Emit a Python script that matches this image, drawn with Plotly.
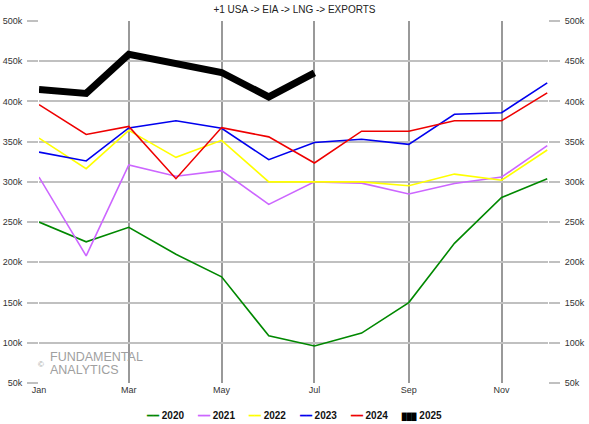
import plotly.graph_objects as go

# ---------------------------------------------------------
# DATOS
# ---------------------------------------------------------
meses = ["2025-01-01", "2025-02-01", "2025-03-01", "2025-04-01", "2025-05-01", "2025-06-01",
         "2025-07-01", "2025-08-01", "2025-09-01", "2025-10-01", "2025-11-01", "2025-12-01"]

y2020 = [250, 225.5, 243.6, 210, 182, 108.6, 96, 112, 150, 223.6, 280.6, 304]
y2021 = [306, 208, 321, 307, 314, 272, 300, 298.5, 285, 298, 306, 345]
y2022 = [354.5, 316.4, 364, 330.5, 351.7, 300, 300, 300, 295.2, 309.7, 302, 339.6]
y2023 = [337, 326, 367, 376, 366.6, 327.6, 349, 353, 346.7, 384, 386, 423]
y2024 = [396, 359, 369, 304, 367.5, 356, 323.5, 363, 363, 376, 376, 410.6]
y2025 = [415, 410, 458.5, 447, 436, 405.6, 435.5]

series = [
    ("2020", y2020, "#008800", 1.6),
    ("2021", y2021, "#cc66ff", 1.6),
    ("2022", y2022, "#ffff00", 1.6),
    ("2023", y2023, "#0000ee", 1.6),
    ("2024", y2024, "#ee0000", 1.6),
    ("2025", y2025, "#000000", 7),
]

fig = go.Figure()

for nombre, vals, color, ancho in series:
    fig.add_trace(go.Scatter(
        x=meses[:len(vals)],
        y=[v * 1000 for v in vals],
        mode="lines",
        name=nombre,
        line=dict(color=color, width=ancho),
        showlegend=False,
    ))

# traza invisible para el eje derecho
fig.add_trace(go.Scatter(
    x=meses[:1], y=[y2020[0] * 1000], yaxis="y2",
    mode="lines", line=dict(width=0), showlegend=False, hoverinfo="skip"
))

eje_y = dict(
    range=[50000, 500000],
    tickvals=[50000 * i for i in range(1, 11)],
    ticktext=[f"{50 * i}k" for i in range(1, 11)],
    showgrid=True,
    gridcolor="#c0c0c0",
    gridwidth=1.5,
    zeroline=False,
    showline=False,
    ticks="outside",
    ticklen=11,
    tickcolor="#c0c0c0",
    tickwidth=1.5,
    ticklabelstandoff=3,
    automargin=False,
    tickfont=dict(size=9, color="#333333"),
)

fig.update_layout(
    width=589,
    height=424,
    title=dict(
        text="+1 USA -> EIA -> LNG -> EXPORTS",
        x=0.5, xanchor="center", y=0.985, yanchor="top",
        font=dict(size=10, color="#222222", family="Liberation Sans, Arial"),
    ),
    font=dict(family="Liberation Sans, Arial", size=9, color="#333333"),
    paper_bgcolor="white",
    plot_bgcolor="white",
    margin=dict(l=39, r=41, t=21, b=41),
    xaxis=dict(
        type="date",
        range=["2025-01-01", "2025-12-01 12:00"],
        tickvals=["2025-01-01", "2025-03-01", "2025-05-01", "2025-07-01", "2025-09-01", "2025-11-01"],
        ticktext=["Jan", "Mar", "May", "Jul", "Sep", "Nov"],
        showgrid=True,
        gridcolor="#999999",
        gridwidth=1.5,
        zeroline=False,
        showline=False,
        automargin=False,
        tickfont=dict(size=9, color="#333333"),
    ),
    yaxis=eje_y,
    yaxis2=dict(eje_y, overlaying="y", side="right", showgrid=False),
    showlegend=False,
)

# leyenda como texto
items = []
for nombre, vals, color, ancho in series:
    if ancho > 3:
        simbolo = f"<span style='color:{color};font-size:7px'>███</span>"
    else:
        simbolo = f"<span style='color:{color}'>━━</span>"
    items.append(f"{simbolo} <b>{nombre}</b>")

fig.add_annotation(
    text="&nbsp;&nbsp;&nbsp;&nbsp;&nbsp;".join(items),
    xref="paper", yref="paper",
    x=0.5, y=-0.09, xanchor="center", yanchor="middle",
    showarrow=False,
    font=dict(size=10, color="#111111", family="Liberation Sans, Arial"),
)

# marca de agua
marca = dict(xref="paper", yref="paper", showarrow=False, xanchor="left", yanchor="middle",
             font=dict(size=12.5, color="#a0a0a0", family="Liberation Sans, Arial"))
fig.add_annotation(text="FUNDAMENTAL", x=0.018, y=0.072, **marca)
fig.add_annotation(text="ANALYTICS", x=0.018, y=0.037, **marca)
fig.add_annotation(text="©", x=-0.006, y=0.052, **dict(marca, font=dict(size=8, color="#a0a0a0")))

fig.write_html("out.html", config={"displayModeBar": False},
               post_script="document.body.style.margin='0';")
